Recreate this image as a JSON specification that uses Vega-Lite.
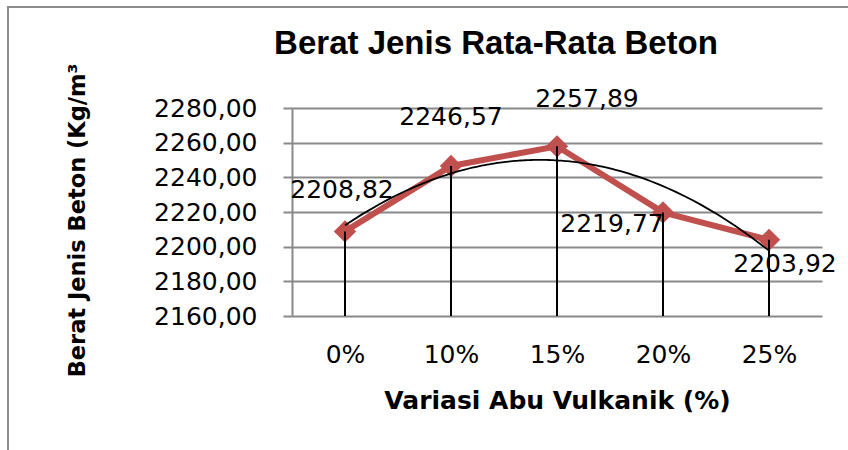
{
  "$schema": "https://vega.github.io/schema/vega-lite/v6.json",
  "width": 844,
  "height": 447,
  "autosize": {"type": "none"},
  "padding": {"left": 8, "top": 7, "right": -4, "bottom": -4},
  "background": "white",
  "title": {
    "text": "Berat Jenis Rata-Rata Beton",
    "font": "Liberation Sans",
    "fontSize": 33,
    "fontWeight": "bold",
    "color": "black",
    "anchor": "middle",
    "frame": "group",
    "baseline": "alphabetic",
    "offset": 0,
    "dx": 66,
    "dy": 80
  },
  "config": {
    "view": {"stroke": "#8c8c8c", "strokeWidth": 2},
    "locale": {"number": {"decimal": ",", "thousands": ".", "grouping": [3], "currency": ["", ""]}},
    "axis": {
      "labelColor": "black",
      "titleColor": "black",
      "domainColor": "#898989",
      "tickColor": "#898989",
      "gridColor": "#898989"
    }
  },
  "data": {
    "values": [
      {"variasi": "0%", "idx": 1, "berat": 2208.82},
      {"variasi": "10%", "idx": 2, "berat": 2246.57},
      {"variasi": "15%", "idx": 3, "berat": 2257.89},
      {"variasi": "20%", "idx": 4, "berat": 2219.77},
      {"variasi": "25%", "idx": 5, "berat": 2203.92}
    ]
  },
  "resolve": {"scale": {"x": "independent"}},
  "layer": [
    {
      "encoding": {
        "x": {
          "field": "variasi",
          "type": "ordinal",
          "sort": null,
          "scale": {"type": "point", "range": [284, 814], "padding": 0.5},
          "axis": {
            "title": "Variasi Abu Vulkanik (%)",
            "offset": -138,
            "domain": false,
            "ticks": false,
            "tickSize": 0,
            "grid": false,
            "labelAngle": 0,
            "labelFont": "DejaVu Sans",
            "labelFontSize": 25,
            "labelPadding": 38,
            "labelBaseline": "middle",
            "titleFont": "DejaVu Sans",
            "titleFontSize": 25,
            "titleFontWeight": "bold",
            "titleBaseline": "alphabetic",
            "titleY": 92
          }
        },
        "y": {
          "field": "berat",
          "type": "quantitative",
          "scale": {"domain": [2160, 2280], "range": [309, 101], "nice": false, "zero": false},
          "axis": {
            "values": [2160, 2180, 2200, 2220, 2240, 2260, 2280],
            "format": ".2f",
            "title": "Berat Jenis Beton (Kg/m³",
            "offset": -284,
            "grid": true,
            "gridWidth": 2,
            "domainWidth": 2,
            "tickWidth": 2,
            "tickSize": 9,
            "labelPadding": 26,
            "labelFont": "DejaVu Sans",
            "labelFontSize": 25,
            "titleFont": "DejaVu Sans",
            "titleFontSize": 22.5,
            "titleFontWeight": "bold",
            "titleAngle": 270,
            "titleAlign": "center",
            "titleBaseline": "alphabetic",
            "titleX": -208,
            "titleY": 213
          }
        }
      },
      "layer": [
        {"mark": {"type": "line", "color": "#C0504D", "strokeWidth": 6}},
        {"mark": {"type": "point", "shape": "diamond", "filled": true, "size": 500, "color": "#C0504D", "opacity": 1}},
        {"mark": {"type": "rule", "color": "black", "strokeWidth": 2}, "encoding": {"y2": {"datum": 2160}}}
      ]
    },
    {
      "transform": [
        {"regression": "berat", "on": "idx", "method": "poly", "order": 2, "extent": [1, 5]}
      ],
      "mark": {"type": "line", "color": "black", "strokeWidth": 1.8},
      "encoding": {
        "x": {"field": "idx", "type": "quantitative", "scale": {"domain": [0.5, 5.5], "range": [284, 814], "nice": false, "zero": false}, "axis": null},
        "y": {"field": "berat", "type": "quantitative"}
      }
    },
    {
      "encoding": {
        "x": {"field": "variasi", "type": "ordinal", "sort": null, "scale": {"type": "point", "range": [284, 814], "padding": 0.5}, "axis": null},
        "y": {"field": "berat", "type": "quantitative"},
        "text": {"field": "berat", "type": "quantitative", "format": ".2f"}
      },
      "layer": [
        {"transform": [{"filter": "datum.variasi == '0%'"}], "mark": {"type": "text", "font": "DejaVu Sans", "fontSize": 25, "color": "black", "align": "center", "baseline": "middle", "dx": -3, "dy": -41}},
        {"transform": [{"filter": "datum.variasi == '10%'"}], "mark": {"type": "text", "font": "DejaVu Sans", "fontSize": 25, "color": "black", "align": "center", "baseline": "middle", "dx": 0, "dy": -49}},
        {"transform": [{"filter": "datum.variasi == '15%'"}], "mark": {"type": "text", "font": "DejaVu Sans", "fontSize": 25, "color": "black", "align": "center", "baseline": "middle", "dx": 30, "dy": -47}},
        {"transform": [{"filter": "datum.variasi == '20%'"}], "mark": {"type": "text", "font": "DejaVu Sans", "fontSize": 25, "color": "black", "align": "center", "baseline": "middle", "dx": -51, "dy": 12}},
        {"transform": [{"filter": "datum.variasi == '25%'"}], "mark": {"type": "text", "font": "DejaVu Sans", "fontSize": 25, "color": "black", "align": "center", "baseline": "middle", "dx": 16, "dy": 24}}
      ]
    }
  ]
}
